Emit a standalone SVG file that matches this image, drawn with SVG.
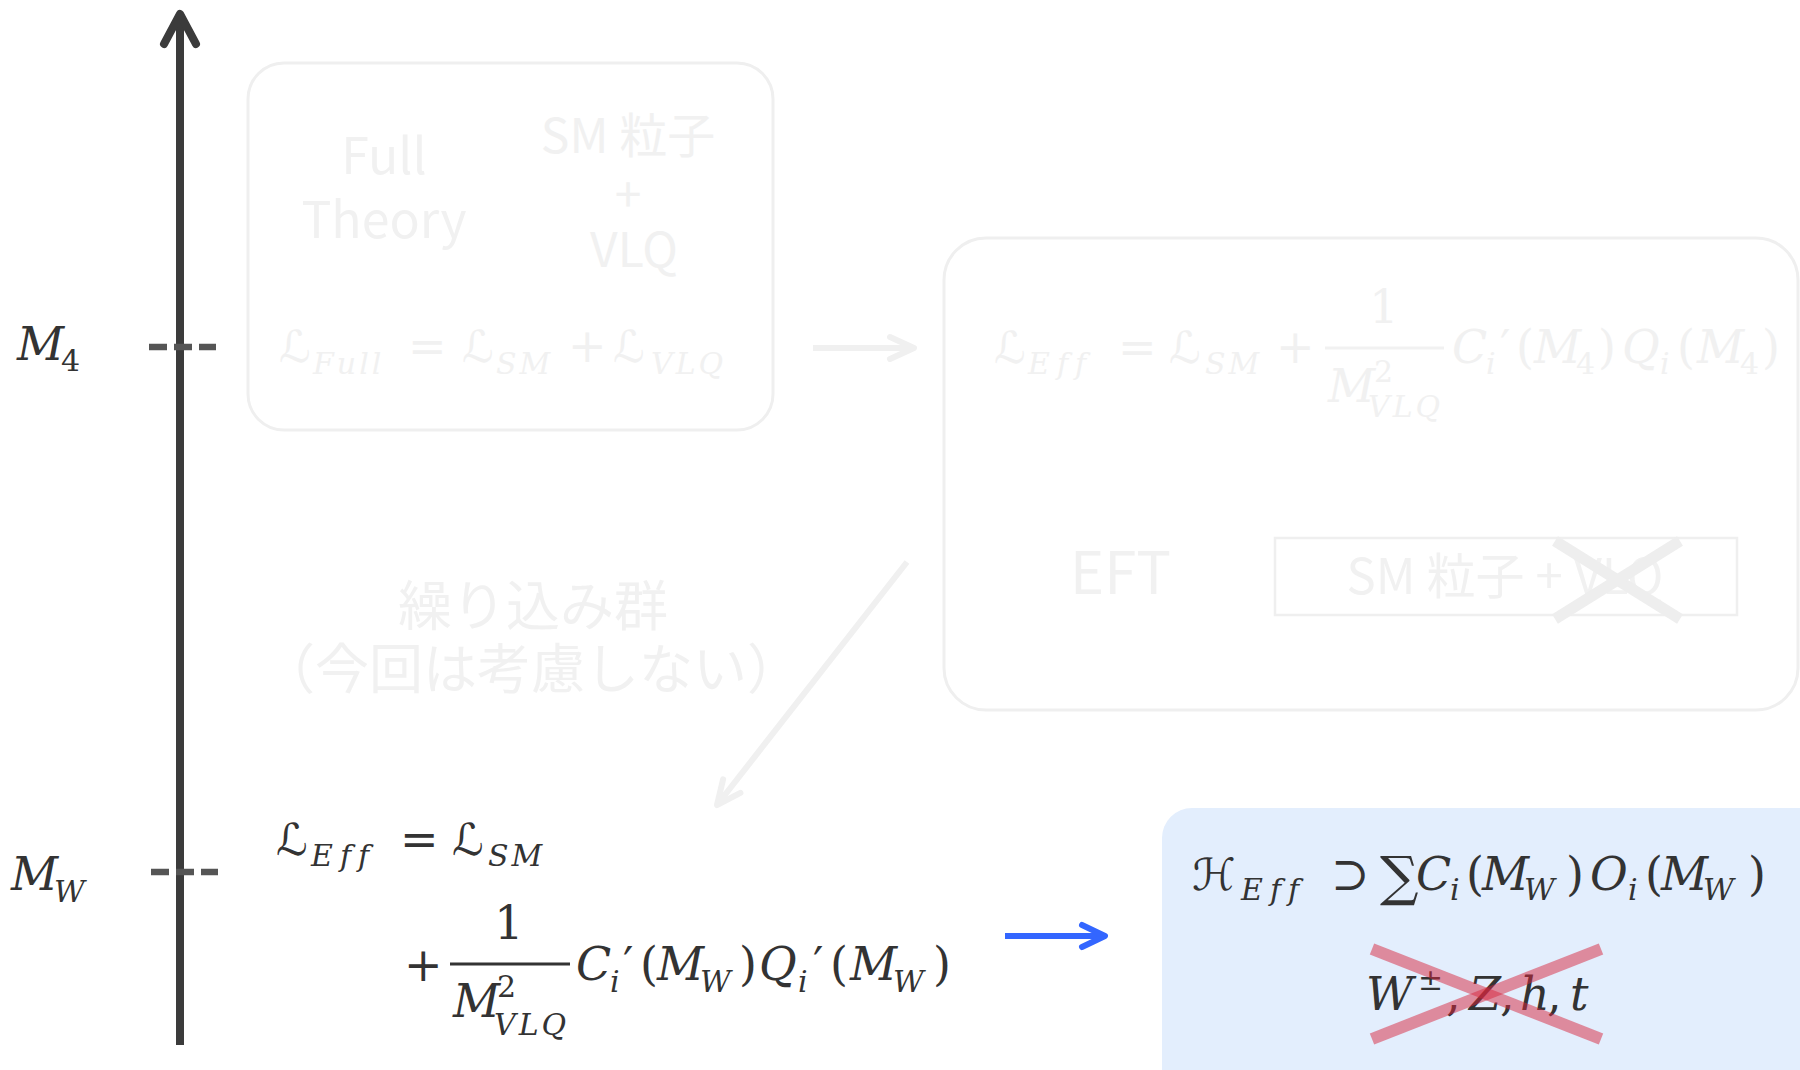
<svg xmlns="http://www.w3.org/2000/svg" width="1800" height="1070" viewBox="0 0 1800 1070">
<defs>
<style>
.m{font-family:"DejaVu Serif","Liberation Serif",serif;font-style:italic;font-size:46px}
.s{font-size:30px;letter-spacing:3px}
.e{letter-spacing:7px}
.u{font-style:normal}
.sc{font-family:"DejaVu Sans","Noto Sans",sans-serif;font-style:normal;font-size:44px}
.dark{fill:#333333}
.faint{fill:#f1f1f1}
.jp{font-family:"Noto Sans CJK JP","Noto Sans",sans-serif;fill:#f1f1f1}
.fbox{fill:none;stroke:#efefef;stroke-width:3}
.fline{stroke:#f0f0f0;stroke-width:6;fill:none}
</style>
<marker id="chevGrey" markerUnits="userSpaceOnUse" viewBox="-30 -16 36 32" refX="0" refY="0" markerWidth="36" markerHeight="32" orient="auto" overflow="visible">
<path d="M-24,-11 L0,0 L-24,11" fill="none" stroke="#f0f0f0" stroke-width="6" stroke-linecap="round" stroke-linejoin="round"/>
</marker>
<marker id="chevBlue" markerUnits="userSpaceOnUse" viewBox="-30 -16 36 32" refX="0" refY="0" markerWidth="36" markerHeight="32" orient="auto" overflow="visible">
<path d="M-23,-11 L0,0 L-23,11" fill="none" stroke="#3366ff" stroke-width="6" stroke-linecap="round" stroke-linejoin="round"/>
</marker>
<marker id="chevAxis" markerUnits="userSpaceOnUse" viewBox="-36 -20 42 40" refX="0" refY="0" markerWidth="42" markerHeight="40" orient="auto" overflow="visible">
<path d="M-30,-16 L0,0 L-30,16" fill="none" stroke="#3b3b3b" stroke-width="8" stroke-linecap="round" stroke-linejoin="round"/>
</marker>
</defs>
<rect width="1800" height="1070" fill="#ffffff"/>

<g id="axis">
<line x1="180" y1="1045" x2="180" y2="14" stroke="#3b3b3b" stroke-width="8" marker-end="url(#chevAxis)"/>
<line x1="149" y1="347" x2="216" y2="347" stroke="#555555" stroke-width="6.5" stroke-dasharray="18 7"/>
<line x1="151" y1="872" x2="218" y2="872" stroke="#555555" stroke-width="6.5" stroke-dasharray="18 7"/>
<text class="m dark"><tspan x="17" y="360">M</tspan><tspan class="s u" x="61" y="371">4</tspan></text>
<text class="m dark"><tspan x="11" y="890">M</tspan><tspan class="s" x="54" y="902">W</tspan></text>
</g>

<g id="full-theory">
<rect class="fbox" x="248" y="63" width="525" height="367" rx="36"/>
<text class="jp" font-size="50" text-anchor="middle"><tspan x="384" y="174">Full</tspan><tspan x="384" y="238">Theory</tspan></text>
<text class="jp" font-size="48" text-anchor="middle"><tspan x="628" y="153">SM 粒子</tspan><tspan x="628" y="212">+</tspan><tspan x="634" y="267">VLQ</tspan></text>
<text class="m faint"><tspan class="sc" x="279" y="362">ℒ</tspan><tspan class="s" x="313" y="374">Full</tspan><tspan class="u" x="408" y="362">=</tspan><tspan class="sc" x="462" y="362">ℒ</tspan><tspan class="s" x="496" y="374">SM</tspan><tspan class="u" x="568" y="362">+</tspan><tspan class="sc" x="613" y="362">ℒ</tspan><tspan class="s" x="651" y="374">VLQ</tspan></text>
</g>

<g id="eft-box">
<rect class="fbox" x="944" y="238" width="854" height="472" rx="42"/>
<text class="m faint"><tspan class="sc" x="994" y="363">ℒ</tspan><tspan class="s e" x="1028" y="374">Eff</tspan><tspan class="u" x="1118" y="363">=</tspan><tspan class="sc" x="1169" y="363">ℒ</tspan><tspan class="s" x="1205" y="374">SM</tspan><tspan class="u" x="1276" y="363">+</tspan></text>
<line x1="1325" y1="348" x2="1444" y2="348" stroke="#f1f1f1" stroke-width="3"/>
<text class="m faint u" x="1384" y="323" text-anchor="middle">1</text>
<text class="m faint"><tspan x="1328" y="402">M</tspan><tspan class="s u" x="1374" y="382">2</tspan><tspan class="s" x="1368" y="417">VLQ</tspan></text>
<text class="m faint"><tspan x="1452" y="363">C</tspan><tspan class="s" x="1486" y="374">i</tspan><tspan class="u" x="1500" y="363">′</tspan><tspan class="u" x="1516" y="363">(</tspan><tspan x="1534" y="363">M</tspan><tspan class="s u" x="1576" y="374">4</tspan><tspan class="u" x="1598" y="363">)</tspan><tspan x="1622" y="363">Q</tspan><tspan class="s" x="1660" y="374">i</tspan><tspan class="u" x="1677" y="363">(</tspan><tspan x="1697" y="363">M</tspan><tspan class="s u" x="1740" y="374">4</tspan><tspan class="u" x="1762" y="363">)</tspan></text>
<text class="jp" font-size="58" x="1070" y="594">EFT</text>
<rect x="1275" y="538" width="462" height="77" fill="none" stroke="#efefef" stroke-width="2.5"/>
<text class="jp" font-size="49" x="1505" y="594" text-anchor="middle">SM 粒子 + VLQ</text>
<line x1="1555" y1="541" x2="1680" y2="619" stroke="#eeeeee" stroke-width="11"/>
<line x1="1555" y1="619" x2="1680" y2="541" stroke="#eeeeee" stroke-width="11"/>
</g>

<g id="rg-label">
<text class="jp" font-size="54" text-anchor="middle"><tspan x="533" y="626">繰り込み群</tspan><tspan x="531" y="689">（今回は考慮しない）</tspan></text>
</g>

<g id="eff-mw">
<text class="m dark"><tspan class="sc" x="276" y="855">ℒ</tspan><tspan class="s e" x="311" y="866">Eff</tspan><tspan class="u" x="400" y="855">=</tspan><tspan class="sc" x="452" y="855">ℒ</tspan><tspan class="s" x="488" y="866">SM</tspan></text>
<text class="m dark u" x="404" y="981">+</text>
<line x1="450" y1="964" x2="570" y2="964" stroke="#333333" stroke-width="3"/>
<text class="m dark u" x="509" y="939" text-anchor="middle">1</text>
<text class="m dark"><tspan x="453" y="1017">M</tspan><tspan class="s u" x="497" y="997">2</tspan><tspan class="s" x="494" y="1035">VLQ</tspan></text>
<text class="m dark"><tspan x="576" y="980">C</tspan><tspan class="s" x="610" y="992">i</tspan><tspan class="u" x="623" y="980">′</tspan><tspan class="u" x="640" y="980">(</tspan><tspan x="657" y="980">M</tspan><tspan class="s" x="700" y="992">W</tspan><tspan class="u" x="739" y="980">)</tspan><tspan x="759" y="980">Q</tspan><tspan class="s" x="798" y="992">i</tspan><tspan class="u" x="813" y="980">′</tspan><tspan class="u" x="830" y="980">(</tspan><tspan x="850" y="980">M</tspan><tspan class="s" x="893" y="992">W</tspan><tspan class="u" x="933" y="980">)</tspan></text>
</g>

<g id="heff-box">
<rect x="1162" y="808" width="680" height="300" rx="30" fill="#e3eefd"/>
<text class="m dark"><tspan class="sc" x="1192" y="890">ℋ</tspan><tspan class="s e" x="1241" y="900">Eff</tspan><tspan class="u" x="1331" y="890">⊃</tspan><tspan class="u" x="1380" y="895" font-size="54">∑</tspan><tspan x="1416" y="890">C</tspan><tspan class="s" x="1450" y="900">i</tspan><tspan class="u" x="1466" y="890">(</tspan><tspan x="1482" y="890">M</tspan><tspan class="s" x="1524" y="900">W</tspan><tspan class="u" x="1566" y="890">)</tspan><tspan x="1590" y="890">O</tspan><tspan class="s" x="1628" y="900">i</tspan><tspan class="u" x="1645" y="890">(</tspan><tspan x="1661" y="890">M</tspan><tspan class="s" x="1703" y="900">W</tspan><tspan class="u" x="1748" y="890">)</tspan></text>
<text class="m dark"><tspan x="1366" y="1010">W</tspan><tspan class="s u" x="1418" y="990">±</tspan><tspan class="u" x="1446" y="1010">,</tspan><tspan x="1469" y="1010">Z</tspan><tspan class="u" x="1500" y="1010">,</tspan><tspan x="1520" y="1010">h</tspan><tspan class="u" x="1547" y="1010">,</tspan><tspan x="1570" y="1010">t</tspan></text>
<line x1="1372" y1="949" x2="1601" y2="1039" stroke="#d7263d" stroke-opacity="0.5" stroke-width="12"/>
<line x1="1372" y1="1039" x2="1601" y2="949" stroke="#d7263d" stroke-opacity="0.5" stroke-width="12"/>
</g>

<g id="connectors">
<line class="fline" x1="813" y1="348" x2="914" y2="348" marker-end="url(#chevGrey)"/>
<line class="fline" x1="907" y1="562" x2="717" y2="805" marker-end="url(#chevGrey)"/>
<line x1="1005" y1="936" x2="1105" y2="936" stroke="#3366ff" stroke-width="6" marker-end="url(#chevBlue)"/>
</g>
</svg>
